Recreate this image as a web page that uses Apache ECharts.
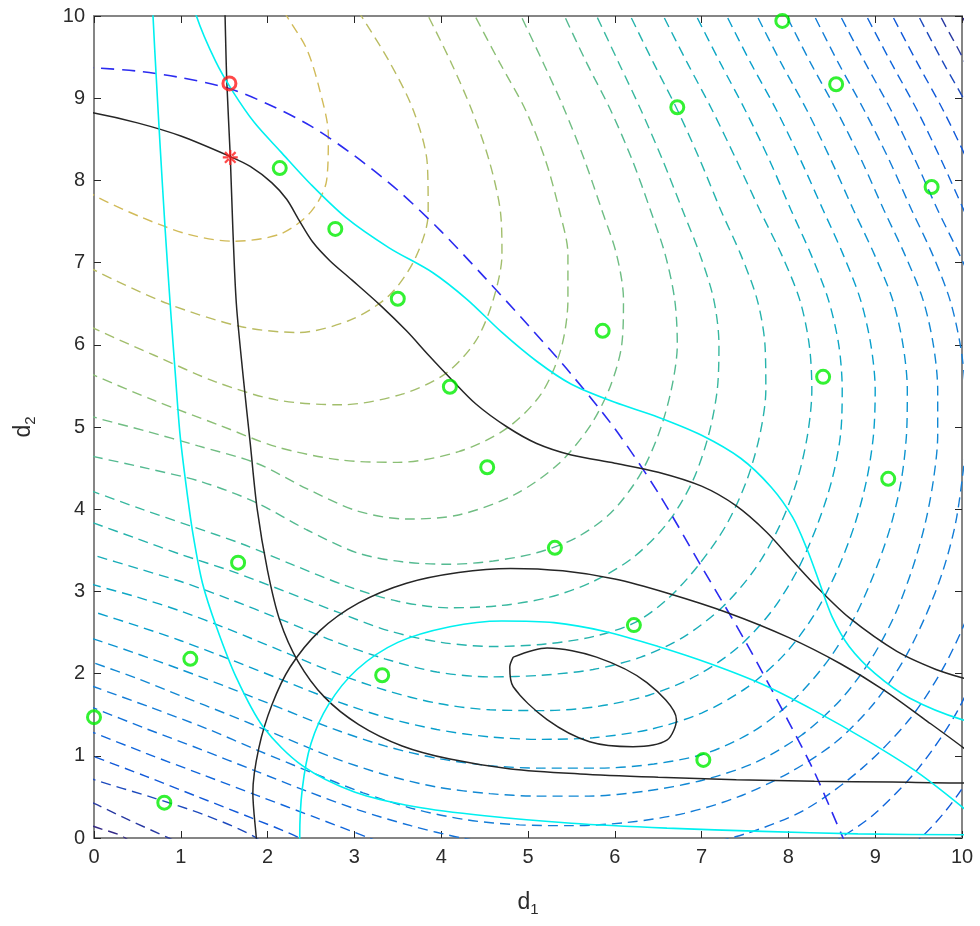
<!DOCTYPE html>
<html><head><meta charset="utf-8">
<script src="https://cdn.jsdelivr.net/npm/echarts@6/dist/echarts.min.js"></script>
<style>html,body{margin:0;padding:0;background:#fff}#c{width:980px;height:926px}</style>
</head><body><div id="c"></div>
<script>
// ---------- data ----------
const xTickLabels = ['0','1','2','3','4','5','6','7','8','9','10'];
const yTickLabels = ['0','1','2','3','4','5','6','7','8','9','10'];

// dashed objective contours, innermost (L0) to outermost (L19)
const L0  = [[2.0,10.4],[2.22,10],[2.45,9.6],[2.6,9.1],[2.7,8.55],[2.68,8.0],[2.5,7.62],[2.15,7.35],[1.6,7.26],[1.1,7.34],[0.55,7.55],[0,7.82],[-0.4,8.1]];
const L1  = [[2.85,10.4],[3.08,10],[3.4,9.45],[3.68,8.85],[3.84,8.2],[3.85,7.6],[3.7,7.05],[3.4,6.6],[2.95,6.3],[2.35,6.15],[1.7,6.22],[0.85,6.5],[0,6.91],[-0.4,7.15]];
const L2  = [[3.6,10.5],[3.85,10],[4.12,9.42],[4.35,8.86],[4.55,8.25],[4.68,7.64],[4.7,7.1],[4.6,6.55],[4.4,6.05],[4.05,5.65],[3.55,5.4],[2.85,5.27],[2.1,5.33],[1.4,5.55],[0.7,5.87],[0,6.2],[-0.4,6.42]];
const L3  = [[4.15,10.5],[4.39,10],[4.68,9.42],[4.97,8.86],[5.2,8.25],[5.36,7.64],[5.46,7.1],[5.46,6.55],[5.38,5.95],[5.15,5.4],[4.75,4.98],[4.2,4.7],[3.5,4.57],[2.83,4.6],[2.1,4.76],[1.45,5.02],[0.7,5.32],[0,5.63],[-0.4,5.82]];
const L4  = [[4.7,10.5],[4.92,10],[5.18,9.42],[5.42,8.86],[5.65,8.25],[5.85,7.64],[6.02,7.1],[6.1,6.55],[6.08,6.0],[5.95,5.5],[5.72,5.02],[5.35,4.55],[4.85,4.18],[4.2,3.93],[3.6,3.88],[3.03,3.98],[2.45,4.25],[1.87,4.56],[1.2,4.77],[0.6,4.95],[0,5.12],[-0.4,5.26]];
const L5  = [[5.2,10.5],[5.42,10],[5.68,9.42],[5.95,8.86],[6.2,8.25],[6.41,7.64],[6.58,7.1],[6.69,6.55],[6.72,6.0],[6.65,5.45],[6.5,4.9],[6.28,4.4],[5.95,3.95],[5.55,3.65],[5.1,3.47],[4.6,3.37],[4.1,3.33],[3.55,3.36],[3.03,3.47],[2.45,3.75],[1.87,4.08],[1.25,4.33],[0.6,4.5],[0,4.64],[-0.4,4.74]];
const L6  = [[5.55,10.5],[5.79,10],[6.05,9.42],[6.3,8.86],[6.55,8.25],[6.78,7.64],[6.98,7.1],[7.14,6.55],[7.2,6.0],[7.18,5.45],[7.08,4.9],[6.9,4.35],[6.62,3.85],[6.22,3.42],[5.75,3.12],[5.25,2.93],[4.7,2.83],[4.1,2.8],[3.5,2.88],[2.9,3.07],[2.3,3.32],[1.7,3.58],[1.1,3.8],[0.55,4.0],[0,4.21],[-0.4,4.36]];
const L7  = [[5.95,10.5],[6.18,10],[6.45,9.42],[6.72,8.86],[6.98,8.25],[7.22,7.64],[7.45,7.1],[7.64,6.55],[7.73,6.0],[7.74,5.45],[7.67,4.9],[7.52,4.35],[7.28,3.8],[6.95,3.3],[6.6,2.9],[6.23,2.62],[5.75,2.45],[5.2,2.36],[4.6,2.33],[4.0,2.38],[3.4,2.52],[2.8,2.75],[2.2,3.0],[1.6,3.24],[1.0,3.45],[0.5,3.64],[0,3.83],[-0.4,3.98]];
const L8  = [[6.33,10.5],[6.56,10],[6.84,9.42],[7.12,8.86],[7.4,8.25],[7.67,7.64],[7.92,7.1],[8.13,6.55],[8.24,6.0],[8.27,5.45],[8.22,4.9],[8.1,4.35],[7.9,3.8],[7.62,3.28],[7.25,2.82],[6.8,2.45],[6.3,2.2],[5.75,2.05],[5.15,1.98],[4.56,1.96],[3.95,2.02],[3.35,2.18],[2.75,2.4],[2.15,2.66],[1.55,2.91],[1.0,3.12],[0.5,3.28],[0,3.44],[-0.4,3.58]];
const L9  = [[6.71,10.5],[6.94,10],[7.22,9.42],[7.5,8.86],[7.78,8.25],[8.03,7.64],[8.26,7.1],[8.46,6.55],[8.58,6.0],[8.62,5.45],[8.6,4.9],[8.5,4.35],[8.33,3.8],[8.1,3.25],[7.8,2.75],[7.42,2.32],[6.95,1.98],[6.4,1.74],[5.8,1.6],[5.2,1.55],[4.56,1.56],[3.95,1.64],[3.35,1.8],[2.75,2.02],[2.15,2.28],[1.55,2.54],[1.0,2.76],[0.5,2.93],[0,3.08],[-0.4,3.22]];
const L10 = [[7.06,10.5],[7.29,10],[7.57,9.42],[7.86,8.86],[8.14,8.25],[8.4,7.64],[8.63,7.1],[8.83,6.55],[8.95,6.0],[9.0,5.45],[8.98,4.9],[8.9,4.35],[8.76,3.8],[8.56,3.25],[8.3,2.72],[7.96,2.24],[7.52,1.83],[7.0,1.52],[6.4,1.32],[5.75,1.22],[5.15,1.2],[4.56,1.23],[3.95,1.32],[3.35,1.47],[2.75,1.68],[2.15,1.93],[1.55,2.18],[1.0,2.4],[0.5,2.58],[0,2.75],[-0.4,2.89]];
const L11 = [[7.41,10.5],[7.64,10],[7.92,9.42],[8.21,8.86],[8.49,8.25],[8.75,7.64],[8.99,7.1],[9.2,6.55],[9.32,6.0],[9.37,5.45],[9.36,4.9],[9.3,4.35],[9.18,3.8],[9.0,3.25],[8.77,2.7],[8.47,2.18],[8.08,1.7],[7.6,1.3],[7.05,1.03],[6.45,0.9],[5.8,0.85],[5.15,0.85],[4.56,0.88],[3.95,0.97],[3.35,1.12],[2.75,1.33],[2.15,1.58],[1.55,1.83],[1.0,2.05],[0.5,2.24],[0,2.42],[-0.4,2.56]];
const L12 = [[7.75,10.5],[7.98,10],[8.26,9.42],[8.55,8.86],[8.84,8.25],[9.1,7.64],[9.34,7.1],[9.55,6.55],[9.67,6.0],[9.72,5.45],[9.72,4.9],[9.67,4.35],[9.57,3.8],[9.42,3.25],[9.22,2.7],[8.95,2.17],[8.6,1.68],[8.15,1.25],[7.62,0.92],[7.0,0.7],[6.35,0.57],[5.7,0.51],[5.1,0.51],[4.56,0.54],[3.95,0.62],[3.35,0.77],[2.75,0.98],[2.15,1.24],[1.55,1.5],[1.0,1.73],[0.5,1.94],[0,2.13],[-0.4,2.28]];
const L13 = [[8.07,10.5],[8.3,10],[8.58,9.42],[8.87,8.86],[9.16,8.25],[9.42,7.64],[9.66,7.1],[9.86,6.55],[9.98,6.0],[10.04,5.45],[10.05,4.9],[10.0,4.35],[9.92,3.8],[9.78,3.25],[9.58,2.7],[9.32,2.15],[8.98,1.63],[8.55,1.17],[8.02,0.8],[7.42,0.5],[6.8,0.3],[6.15,0.19],[5.5,0.15],[4.9,0.16],[4.3,0.22],[3.7,0.35],[3.1,0.55],[2.5,0.8],[1.9,1.06],[1.3,1.33],[0.65,1.59],[0,1.84],[-0.4,2.0]];
const L14 = [[8.37,10.5],[8.6,10],[8.89,9.42],[9.18,8.86],[9.46,8.25],[9.72,7.64],[9.97,7.1],[10.2,6.55],[10.35,6.0],[10.42,5.3],[10.42,4.5],[10.32,3.6],[10.1,2.8],[9.8,2.1],[9.4,1.45],[8.85,0.85],[8.2,0.35],[7.5,0.05],[6.8,-0.12],[6.0,-0.2],[5.0,-0.13],[4.24,0],[3.65,0.15],[3.05,0.34],[2.45,0.57],[1.85,0.82],[1.25,1.07],[0.6,1.33],[0,1.58],[-0.4,1.74]];
const L15 = [[8.67,10.5],[8.9,10],[9.19,9.42],[9.48,8.86],[9.76,8.25],[10.02,7.64],[10.5,6.5],[10.7,5.0],[10.6,3.6],[10.3,2.4],[9.95,1.55],[9.5,0.85],[9.0,0.3],[8.6,0],[8.0,-0.4],[6.5,-0.7],[5.0,-0.6],[4.0,-0.35],[3.17,0],[2.55,0.25],[1.9,0.51],[1.25,0.77],[0.6,1.03],[0,1.28],[-0.4,1.44]];
const L16 = [[8.97,10.5],[9.2,10],[9.49,9.42],[9.78,8.86],[10.06,8.25],[10.6,7.0],[10.9,5.0],[10.8,3.0],[10.4,1.4],[10.0,0.6],[9.52,0],[8.5,-0.8],[6.0,-1.3],[4.0,-0.9],[2.37,0],[1.8,0.25],[1.2,0.5],[0.6,0.75],[0,0.99],[-0.4,1.15]];
const L17 = [[9.27,10.5],[9.5,10],[9.79,9.42],[10.08,8.86],[10.8,7.0],[11.2,4.0],[11.0,1.0],[10.3,-0.5],[8.0,-1.6],[4.0,-1.5],[1.87,0],[1.3,0.27],[0.65,0.5],[0,0.71],[-0.4,0.87]];
const L18 = [[9.52,10.5],[9.75,10],[10.04,9.42],[10.6,8.0],[11.5,5.0],[11.3,1.0],[10.0,-1.5],[5.0,-2.0],[0.86,0],[0.4,0.22],[0,0.42],[-0.4,0.6]];
const L19 = [[9.77,10.5],[10.0,10],[10.3,9.4],[11.0,8.0],[12.0,5.0],[11.5,0],[10.0,-2.0],[3.0,-2.0],[0.36,0],[0,0.14],[-0.4,0.32]];
const dashedLevels = [L0,L1,L2,L3,L4,L5,L6,L7,L8,L9,L10,L11,L12,L13,L14,L15,L16,L17,L18,L19];

// blue dashed contour
const blueDashed = [[-0.4,9.4],[0,9.37],[0.5,9.33],[1.0,9.25],[1.55,9.12],[2.0,8.93],[2.5,8.66],[3.0,8.3],[3.5,7.88],[4.0,7.38],[4.5,6.82],[5.0,6.24],[5.5,5.64],[6.0,4.98],[6.5,4.2],[7.0,3.3],[7.5,2.4],[8.0,1.42],[8.3,0.8],[8.63,0],[8.8,-0.4]];

// black solid curves
const black1 = [[1.5,10.4],[1.51,10],[1.53,9.2],[1.57,8.29],[1.6,7.4],[1.64,6.5],[1.72,5.6],[1.8,4.8],[1.88,4.0],[2.0,3.25],[2.14,2.65],[2.35,2.15],[2.65,1.72],[3.05,1.38],[3.55,1.12],[4.1,0.96],[4.8,0.84],[5.6,0.78],[6.5,0.74],[7.4,0.71],[8.3,0.69],[9.2,0.68],[10,0.67],[10.4,0.67]];
const black2 = [[-0.4,8.88],[0,8.82],[0.5,8.7],[1.0,8.54],[1.57,8.29],[1.8,8.17],[2.05,7.97],[2.22,7.77],[2.36,7.52],[2.52,7.25],[2.72,7.02],[2.97,6.79],[3.3,6.48],[3.6,6.17],[3.85,5.88],[4.1,5.6],[4.4,5.28],[4.76,5.0],[5.1,4.8],[5.5,4.66],[6.0,4.56],[6.5,4.45],[7.0,4.28],[7.4,4.04],[7.75,3.72],[8.05,3.37],[8.35,3.03],[8.7,2.68],[9.25,2.27],[9.7,2.05],[10,1.95],[10.4,1.85]];
const black3 = [[1.9,-0.4],[1.87,0],[1.83,0.55],[1.9,1.1],[2.05,1.62],[2.26,2.08],[2.6,2.52],[3.05,2.86],[3.6,3.1],[4.2,3.23],[4.8,3.28],[5.4,3.25],[6.0,3.15],[6.6,2.98],[7.3,2.74],[8.0,2.44],[8.6,2.12],[9.1,1.8],[9.6,1.42],[10,1.11],[10.4,0.78]];
const black4 = [[4.83,2.2],[5.22,2.31],[5.79,2.2],[6.37,1.89],[6.71,1.44],[6.6,1.19],[6.21,1.11],[5.71,1.17],[5.22,1.44],[4.83,1.84],[4.79,2.08],[4.83,2.2]];

// cyan solid curves
const cyan1 = [[0.67,10.4],[0.68,10],[0.72,9.2],[0.76,8.45],[0.82,7.4],[0.88,6.46],[0.94,5.6],[0.99,4.92],[1.06,4.3],[1.14,3.7],[1.25,3.1],[1.41,2.57],[1.64,1.95],[1.95,1.35],[2.4,0.88],[3.0,0.56],[3.7,0.38],[4.5,0.27],[5.5,0.18],[6.6,0.12],[7.7,0.08],[8.8,0.05],[10,0.04],[10.4,0.04]];
const cyan2 = [[1.1,10.4],[1.18,10],[1.4,9.45],[1.6,9.08],[1.85,8.7],[2.15,8.35],[2.5,7.95],[2.9,7.55],[3.4,7.18],[3.9,6.88],[4.3,6.55],[4.7,6.15],[5.1,5.8],[5.5,5.52],[6.0,5.3],[6.5,5.12],[7.0,4.9],[7.45,4.62],[7.8,4.27],[8.05,3.9],[8.22,3.5],[8.36,3.1],[8.5,2.7],[8.7,2.33],[9.0,2.0],[9.4,1.7],[10,1.44],[10.4,1.38]];
const cyan3 = [[2.37,-0.4],[2.37,0],[2.4,0.6],[2.5,1.15],[2.7,1.62],[3.03,2.05],[3.5,2.38],[4.1,2.57],[4.7,2.64],[5.3,2.62],[5.9,2.51],[6.5,2.33],[7.1,2.12],[7.7,1.87],[8.3,1.55],[8.9,1.19],[9.5,0.79],[10,0.38],[10.4,0.02]];

// sample points (green circles)
const samplesD1 = [0.0,0.81,1.11,1.66,3.32,2.14,2.78,3.5,4.1,4.53,5.31,5.86,6.22,7.02,6.72,7.93,8.55,8.4,9.15,9.65];
const samplesD2 = [1.47,0.43,2.18,3.35,1.98,8.15,7.41,6.56,5.49,4.51,3.53,6.17,2.59,0.95,8.89,9.94,9.17,5.61,4.37,7.92];

// optima
const redCircle = [1.56, 9.18];
const redStar = [1.57, 8.28];

// ---------- styling ----------
const parulaStops = [
  [0.000,[53,42,135]],[0.111,[15,92,221]],[0.222,[20,129,214]],[0.333,[6,164,202]],
  [0.444,[46,183,164]],[0.556,[135,191,119]],[0.667,[209,187,89]],[0.778,[254,200,50]],[1.0,[249,251,14]]];
function parula(t){
  for(let i=1;i<parulaStops.length;i++){
    const a=parulaStops[i-1], b=parulaStops[i];
    if(t<=b[0]){const f=(t-a[0])/(b[0]-a[0]);
      const c=a[1].map((v,j)=>Math.round(v+(b[1][j]-v)*f));
      return 'rgb('+c.join(',')+')';}
  }
  return 'rgb(249,251,14)';
}
const nLev = dashedLevels.length;
const series = [];
dashedLevels.forEach((lev,k)=>{
  series.push({type:'line',data:lev,smooth:0.3,showSymbol:false,silent:true,z:1,
    lineStyle:{color:parula(0.667*(1-k/(nLev-1))),width:1.4,type:[10,6]}});
});
series.push({type:'line',data:blueDashed,smooth:0.3,showSymbol:false,silent:true,z:2,
  lineStyle:{color:'#2b2bf0',width:1.6,type:[13,8]}});
[black1,black2,black3,black4].forEach(d=>series.push({type:'line',data:d,smooth:0.3,showSymbol:false,silent:true,z:3,
  lineStyle:{color:'#262626',width:1.5}}));
[cyan1,cyan2,cyan3].forEach(d=>series.push({type:'line',data:d,smooth:0.3,showSymbol:false,silent:true,z:3,
  lineStyle:{color:'#00f0f0',width:1.6}}));
series.push({type:'scatter',data:samplesD1.map((x,i)=>[x,samplesD2[i]]),symbol:'circle',symbolSize:13,z:5,silent:true,
  itemStyle:{color:'rgba(0,0,0,0)',borderColor:'#00ee00',borderWidth:3}});
series.push({type:'scatter',data:[redCircle],symbol:'circle',symbolSize:13,z:6,silent:true,
  itemStyle:{color:'rgba(0,0,0,0)',borderColor:'#ff1a1a',borderWidth:3}});
const starPath = 'path://M-1.5,-10L1.5,-10L1.5,10L-1.5,10Z M-10,-1.5L10,-1.5L10,1.5L-10,1.5Z M-8.13,-6.01L-6.01,-8.13L8.13,6.01L6.01,8.13Z M8.13,-6.01L6.01,-8.13L-8.13,6.01L-6.01,8.13Z';
series.push({type:'scatter',data:[redStar],symbol:starPath,symbolSize:15,z:6,silent:true,
  itemStyle:{color:'#ff1a1a'}});

const axisCol = '#858585', labCol = '#2b2b2b';
const fontFam = 'Liberation Sans, Arial, sans-serif';
function xAx(pos,show){return {type:'value',min:0,max:10,interval:1,position:pos,
  axisLine:{show:true,onZero:false,lineStyle:{color:axisCol,width:2}},
  axisTick:{show:true,inside:true,length:7,lineStyle:{color:'#262626',width:1}},
  splitLine:{show:false},
  axisLabel:{show:show,color:labCol,fontSize:20,fontFamily:fontFam,margin:9,formatter:v=>xTickLabels[Math.round(v)]},
  name:show?'d{s|1}':'',nameLocation:'middle',nameGap:50,
  nameTextStyle:{color:labCol,fontSize:23,fontFamily:fontFam,rich:{s:{fontSize:15,padding:[14,0,0,0],color:labCol,fontFamily:fontFam}}}};}
function yAx(pos,show){return {type:'value',min:0,max:10,interval:1,position:pos,
  axisLine:{show:true,onZero:false,lineStyle:{color:axisCol,width:2}},
  axisTick:{show:true,inside:true,length:7,lineStyle:{color:'#262626',width:1}},
  splitLine:{show:false},
  axisLabel:{show:show,color:labCol,fontSize:20,fontFamily:fontFam,margin:9,formatter:v=>yTickLabels[Math.round(v)]},
  name:show?'d{s|2}':'',nameLocation:'middle',nameGap:56,nameRotate:90,
  nameTextStyle:{color:labCol,fontSize:23,fontFamily:fontFam,rich:{s:{fontSize:15,padding:[14,0,0,0],color:labCol,fontFamily:fontFam}}}};}

const chart = echarts.init(document.getElementById('c'),null,{renderer:'canvas'});
chart.setOption({
  animation:false,
  backgroundColor:'#ffffff',
  grid:{left:94,top:16,width:868,height:822},
  xAxis:[xAx('bottom',true),xAx('top',false)],
  yAxis:[yAx('left',true),yAx('right',false)],
  series:series
});
</script></body></html>
